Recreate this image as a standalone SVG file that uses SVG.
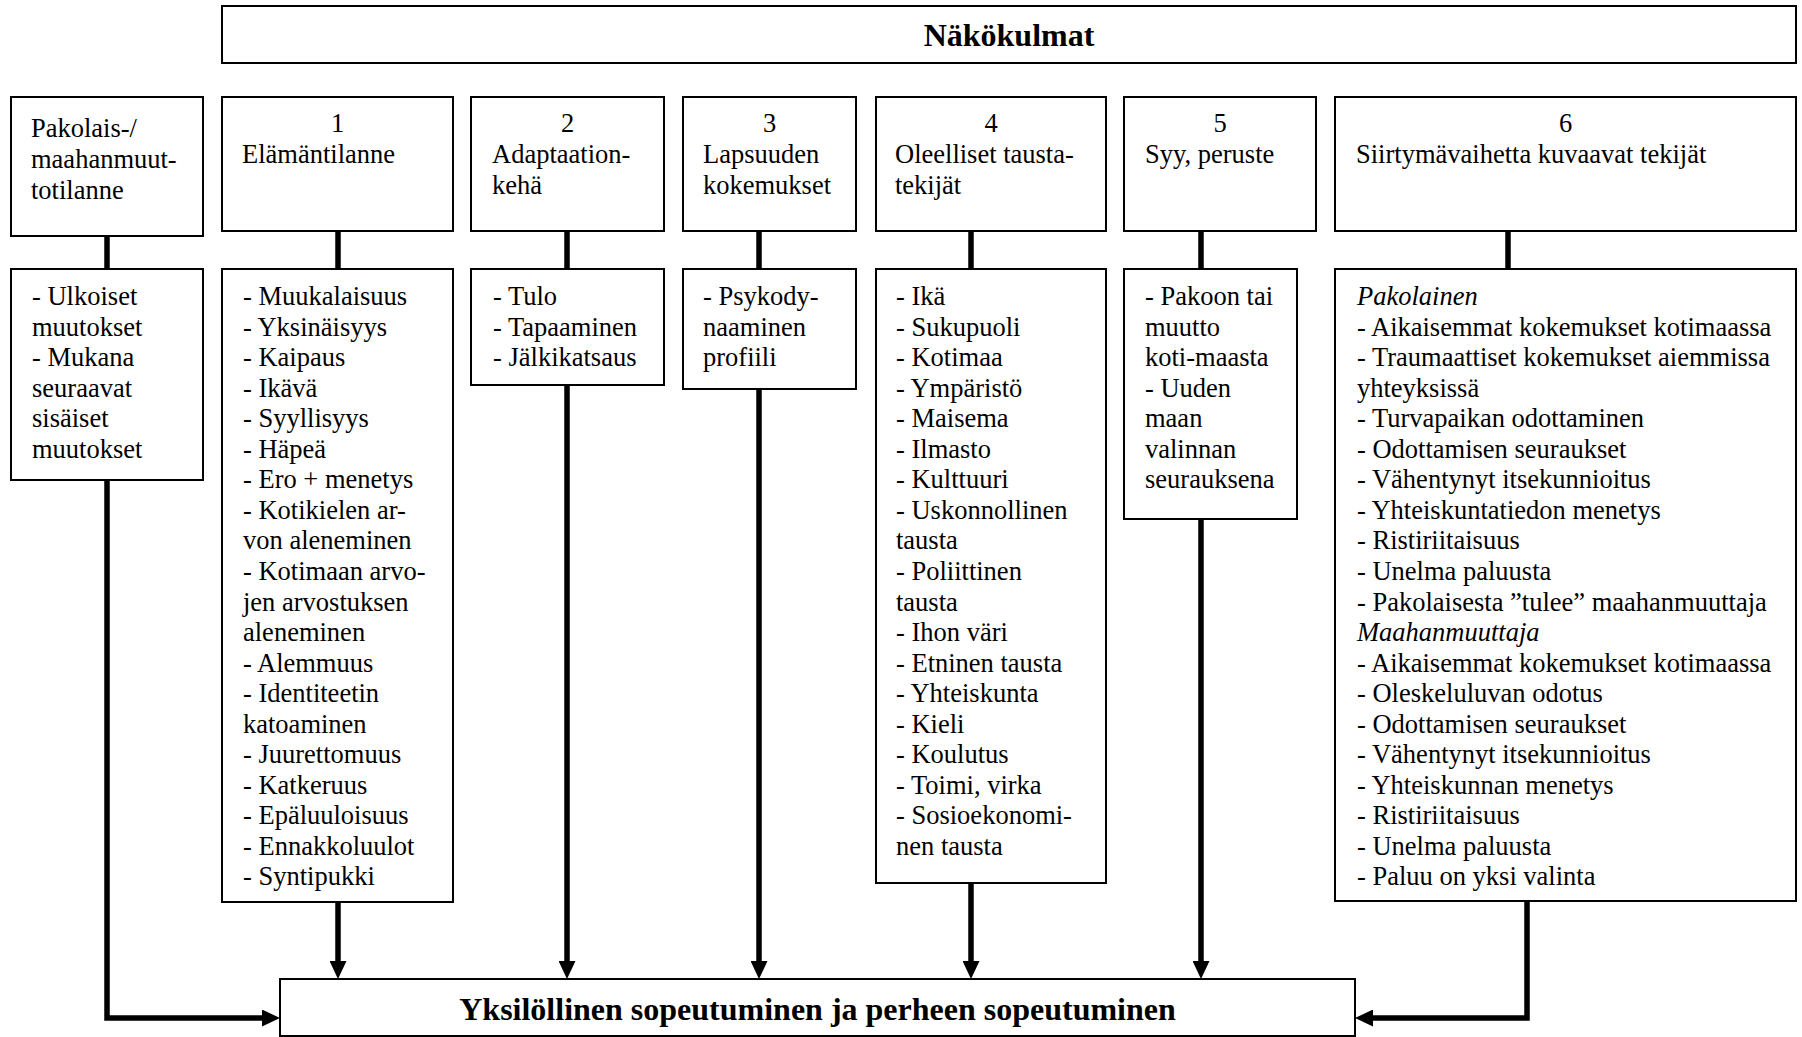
<svg xmlns="http://www.w3.org/2000/svg" width="1802" height="1037" viewBox="0 0 1802 1037">
<style>
.box{fill:#fff;stroke:#000;stroke-width:2}
.t{font-family:"Liberation Serif","Times New Roman",serif;font-size:26.5px;fill:#000}
.b{font-family:"Liberation Serif","Times New Roman",serif;font-size:32px;font-weight:bold;fill:#000}
.c{text-anchor:middle}
.i{font-style:italic}
.stem{stroke:#000;stroke-width:5.5;fill:none}
.arr{stroke:#000;stroke-width:5.5;fill:none;marker-end:url(#ah)}
</style>
<defs>
<marker id="ah" markerUnits="userSpaceOnUse" markerWidth="18" markerHeight="17" refX="2" refY="8.5" orient="auto">
<path d="M0,0 L18,8.5 L0,17 z" fill="#000"/>
</marker>
</defs>
<rect width="1802" height="1037" fill="#fff"/>

<g id="connectors">
<line class="stem" x1="107" y1="236" x2="107" y2="269"/>
<line class="stem" x1="338" y1="231" x2="338" y2="269"/>
<line class="stem" x1="567" y1="231" x2="567" y2="269"/>
<line class="stem" x1="759" y1="231" x2="759" y2="269"/>
<line class="stem" x1="971" y1="231" x2="971" y2="269"/>
<line class="stem" x1="1201" y1="231" x2="1201" y2="269"/>
<line class="stem" x1="1508" y1="231" x2="1508" y2="269"/>
<line class="arr" x1="338" y1="902" x2="338" y2="963"/>
<line class="arr" x1="567" y1="385" x2="567" y2="963"/>
<line class="arr" x1="759" y1="389" x2="759" y2="963"/>
<line class="arr" x1="971" y1="883" x2="971" y2="963"/>
<line class="arr" x1="1201" y1="519" x2="1201" y2="963"/>
<path class="arr" d="M107,480 V1018 H264"/>
<path class="arr" d="M1527,901 V1018 H1371"/>
</g>

<g id="nakokulmat">
<rect class="box" x="222" y="6" width="1574" height="57"/>
<text class="b c" x="1009" y="46">Näkökulmat</text>
</g>

<g id="h-pakolais">
<rect class="box" x="11" y="97" width="192" height="139"/>
<text class="t" x="31" y="137">Pakolais-/</text>
<text class="t" x="31" y="168">maahanmuut-</text>
<text class="t" x="31" y="199">totilanne</text>
</g>
<g id="h1">
<rect class="box" x="222" y="97" width="231" height="134"/>
<text class="t c" x="337.5" y="132">1</text>
<text class="t" x="242" y="163">Elämäntilanne</text>
</g>
<g id="h2">
<rect class="box" x="471" y="97" width="193" height="134"/>
<text class="t c" x="567.5" y="132">2</text>
<text class="t" x="492" y="163">Adaptaation-</text>
<text class="t" x="492" y="193.5">kehä</text>
</g>
<g id="h3">
<rect class="box" x="683" y="97" width="173" height="134"/>
<text class="t c" x="769.5" y="132">3</text>
<text class="t" x="703" y="163">Lapsuuden</text>
<text class="t" x="703" y="193.5">kokemukset</text>
</g>
<g id="h4">
<rect class="box" x="876" y="97" width="230" height="134"/>
<text class="t c" x="991" y="132">4</text>
<text class="t" x="895" y="163">Oleelliset tausta-</text>
<text class="t" x="895" y="193.5">tekijät</text>
</g>
<g id="h5">
<rect class="box" x="1124" y="97" width="192" height="134"/>
<text class="t c" x="1220" y="132">5</text>
<text class="t" x="1145" y="163">Syy, peruste</text>
</g>
<g id="h6">
<rect class="box" x="1335" y="97" width="461" height="134"/>
<text class="t c" x="1565.5" y="132">6</text>
<text class="t" x="1356" y="163">Siirtymävaihetta kuvaavat tekijät</text>
</g>

<g id="b-pakolais">
<rect class="box" x="11" y="269" width="192" height="211"/>
<text class="t" x="32" y="305">- Ulkoiset</text>
<text class="t" x="32" y="335.55">muutokset</text>
<text class="t" x="32" y="366.1">- Mukana</text>
<text class="t" x="32" y="396.65">seuraavat</text>
<text class="t" x="32" y="427.2">sisäiset</text>
<text class="t" x="32" y="457.75">muutokset</text>
</g>

<g id="b1">
<rect class="box" x="222" y="269" width="231" height="633"/>
<text class="t" x="243" y="305">- Muukalaisuus</text>
<text class="t" x="243" y="335.55">- Yksinäisyys</text>
<text class="t" x="243" y="366.1">- Kaipaus</text>
<text class="t" x="243" y="396.65">- Ikävä</text>
<text class="t" x="243" y="427.2">- Syyllisyys</text>
<text class="t" x="243" y="457.75">- Häpeä</text>
<text class="t" x="243" y="488.3">- Ero + menetys</text>
<text class="t" x="243" y="518.85">- Kotikielen ar-</text>
<text class="t" x="243" y="549.4">von aleneminen</text>
<text class="t" x="243" y="579.95">- Kotimaan arvo-</text>
<text class="t" x="243" y="610.5">jen arvostuksen</text>
<text class="t" x="243" y="641.05">aleneminen</text>
<text class="t" x="243" y="671.6">- Alemmuus</text>
<text class="t" x="243" y="702.15">- Identiteetin</text>
<text class="t" x="243" y="732.7">katoaminen</text>
<text class="t" x="243" y="763.25">- Juurettomuus</text>
<text class="t" x="243" y="793.8">- Katkeruus</text>
<text class="t" x="243" y="824.35">- Epäluuloisuus</text>
<text class="t" x="243" y="854.9">- Ennakkoluulot</text>
<text class="t" x="243" y="885.45">- Syntipukki</text>
</g>

<g id="b2">
<rect class="box" x="471" y="269" width="193" height="116"/>
<text class="t" x="493" y="305">- Tulo</text>
<text class="t" x="493" y="335.55">- Tapaaminen</text>
<text class="t" x="493" y="366.1">- Jälkikatsaus</text>
</g>

<g id="b3">
<rect class="box" x="683" y="269" width="173" height="120"/>
<text class="t" x="703" y="305">- Psykody-</text>
<text class="t" x="703" y="335.55">naaminen</text>
<text class="t" x="703" y="366.1">profiili</text>
</g>

<g id="b4">
<rect class="box" x="876" y="269" width="230" height="614"/>
<text class="t" x="896" y="305">- Ikä</text>
<text class="t" x="896" y="335.55">- Sukupuoli</text>
<text class="t" x="896" y="366.1">- Kotimaa</text>
<text class="t" x="896" y="396.65">- Ympäristö</text>
<text class="t" x="896" y="427.2">- Maisema</text>
<text class="t" x="896" y="457.75">- Ilmasto</text>
<text class="t" x="896" y="488.3">- Kulttuuri</text>
<text class="t" x="896" y="518.85">- Uskonnollinen</text>
<text class="t" x="896" y="549.4">tausta</text>
<text class="t" x="896" y="579.95">- Poliittinen</text>
<text class="t" x="896" y="610.5">tausta</text>
<text class="t" x="896" y="641.05">- Ihon väri</text>
<text class="t" x="896" y="671.6">- Etninen tausta</text>
<text class="t" x="896" y="702.15">- Yhteiskunta</text>
<text class="t" x="896" y="732.7">- Kieli</text>
<text class="t" x="896" y="763.25">- Koulutus</text>
<text class="t" x="896" y="793.8">- Toimi, virka</text>
<text class="t" x="896" y="824.35">- Sosioekonomi-</text>
<text class="t" x="896" y="854.9">nen tausta</text>
</g>

<g id="b5">
<rect class="box" x="1124" y="269" width="173" height="250"/>
<text class="t" x="1145" y="305">- Pakoon tai</text>
<text class="t" x="1145" y="335.55">muutto</text>
<text class="t" x="1145" y="366.1">koti-maasta</text>
<text class="t" x="1145" y="396.65">- Uuden</text>
<text class="t" x="1145" y="427.2">maan</text>
<text class="t" x="1145" y="457.75">valinnan</text>
<text class="t" x="1145" y="488.3">seurauksena</text>
</g>

<g id="b6">
<rect class="box" x="1335" y="269" width="461" height="632"/>
<text class="t i" x="1357" y="305">Pakolainen</text>
<text class="t" x="1357" y="335.55">- Aikaisemmat kokemukset kotimaassa</text>
<text class="t" x="1357" y="366.1">- Traumaattiset kokemukset aiemmissa</text>
<text class="t" x="1357" y="396.65">yhteyksissä</text>
<text class="t" x="1357" y="427.2">- Turvapaikan odottaminen</text>
<text class="t" x="1357" y="457.75">- Odottamisen seuraukset</text>
<text class="t" x="1357" y="488.3">- Vähentynyt itsekunnioitus</text>
<text class="t" x="1357" y="518.85">- Yhteiskuntatiedon menetys</text>
<text class="t" x="1357" y="549.4">- Ristiriitaisuus</text>
<text class="t" x="1357" y="579.95">- Unelma paluusta</text>
<text class="t" x="1357" y="610.5">- Pakolaisesta ”tulee” maahanmuuttaja</text>
<text class="t i" x="1357" y="641.05">Maahanmuuttaja</text>
<text class="t" x="1357" y="671.6">- Aikaisemmat kokemukset kotimaassa</text>
<text class="t" x="1357" y="702.15">- Oleskeluluvan odotus</text>
<text class="t" x="1357" y="732.7">- Odottamisen seuraukset</text>
<text class="t" x="1357" y="763.25">- Vähentynyt itsekunnioitus</text>
<text class="t" x="1357" y="793.8">- Yhteiskunnan menetys</text>
<text class="t" x="1357" y="824.35">- Ristiriitaisuus</text>
<text class="t" x="1357" y="854.9">- Unelma paluusta</text>
<text class="t" x="1357" y="885.45">- Paluu on yksi valinta</text>
</g>

<g id="sopeutuminen">
<rect class="box" x="280" y="979" width="1075" height="57"/>
<text class="b c" x="817.5" y="1020">Yksilöllinen sopeutuminen ja perheen sopeutuminen</text>
</g>
</svg>
